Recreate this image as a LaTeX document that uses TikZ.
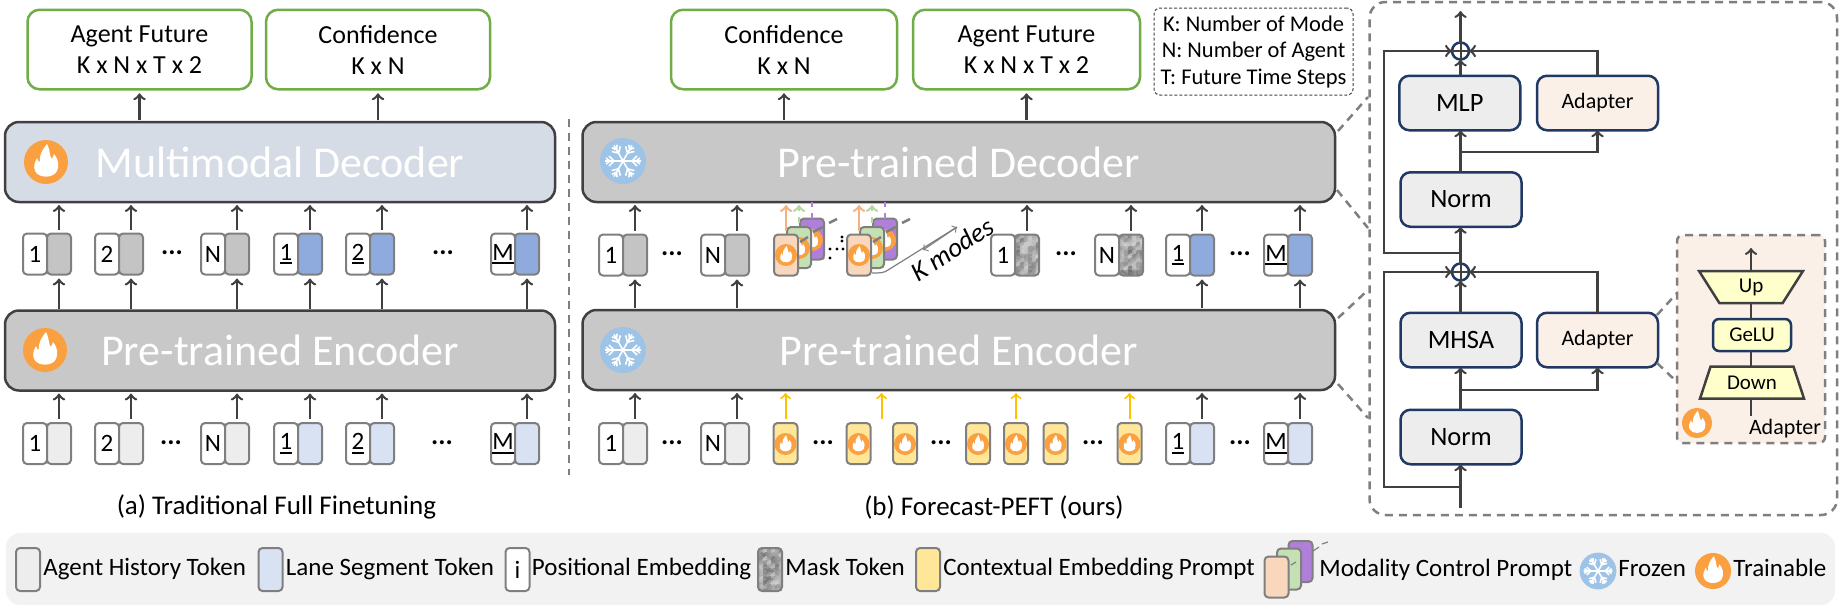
\documentclass[tikz,border=0pt]{standalone}
\usepackage{fontspec}
\setmainfont{Carlito}
\usetikzlibrary{positioning,shapes.geometric}
\definecolor{linedark}{HTML}{404040}
\definecolor{tokline}{HTML}{7F7F7F}
\definecolor{navyline}{HTML}{1F3864}
\definecolor{leafgreen}{HTML}{70AD47}
\definecolor{blockgray}{HTML}{C8C8C8}
\definecolor{blockblue}{HTML}{D6DCE5}
\definecolor{tokgray}{HTML}{C4C4C4}
\definecolor{tokblue}{HTML}{8FAADC}
\definecolor{palegray}{HTML}{EDEDED}
\definecolor{paleblue}{HTML}{D9E2F3}
\definecolor{promptyellow}{HTML}{FFE699}
\definecolor{promptpeach}{HTML}{F8D7BD}
\definecolor{promptgreen}{HTML}{C5E0B4}
\definecolor{promptpurple}{HTML}{B07FD9}
\definecolor{arrowpeach}{HTML}{F4B183}
\definecolor{arrowgreen}{HTML}{B5D8A0}
\definecolor{arrowyellow}{HTML}{FFC000}
\definecolor{flameorange}{HTML}{FBA040}
\definecolor{snowblue}{HTML}{9DC3E6}
\definecolor{adapterfill}{HTML}{FBF0E8}
\definecolor{gatefill}{HTML}{FFFFCC}
\definecolor{barfill}{HTML}{F2F2F2}
\newcommand{\ulnum}[1]{\setbox0\hbox{#1}\leavevmode\rlap{\rule[-2pt]{\wd0}{1pt}}\box0}
\tikzset{
    tok/.style={draw=tokline, line width=1pt, rounded corners=2pt, minimum width=12pt,
        minimum height=20.5pt, inner sep=0pt, outer sep=0pt, font=\fontsize{12.5}{14}\selectfont},
    numbox/.style={tok, fill=white},
    graytok/.style={tok, fill=tokgray},
    bluetok/.style={tok, fill=tokblue},
    palegraytok/.style={tok, fill=palegray},
    paleblutok/.style={tok, fill=paleblue},
    yellowtok/.style={tok, fill=promptyellow},
    peachtok/.style={tok, fill=promptpeach},
    greentok/.style={tok, fill=promptgreen},
    purpletok/.style={tok, fill=promptpurple},
    masktok/.style={tok, fill=tokgray, path picture={
        \foreach \u in {-12,-8,...,12} \foreach \v in {-22,-18,...,22} {
            \pgfmathsetmacro\g{15+45*rnd}
            \fill[black!\g, opacity=.65] ([shift={(\u,\v)}]path picture bounding box.center) circle (3.5);
        }}},
    block/.style={draw=linedark, line width=1.25pt, rounded corners=7pt, minimum width=275pt,
        minimum height=40pt, inner sep=0pt, outer sep=0pt, text=white, font=\fontsize{22}{24}\selectfont},
    outbox/.style={draw=leafgreen, line width=1.25pt, rounded corners=6pt, minimum width=112pt,
        minimum height=39.75pt, inner sep=0pt, outer sep=0pt, align=center, font=\fontsize{13}{15.5}\selectfont},
    navybox/.style={draw=navyline, line width=1.25pt, rounded corners=5pt, minimum width=60.5pt,
        minimum height=27.25pt, inner sep=0pt, outer sep=0pt, fill=palegray, font=\fontsize{13.25}{15}\selectfont},
    adapterbox/.style={navybox, fill=adapterfill, font=\fontsize{11}{13}\selectfont},
    gate/.style={trapezium, draw=linedark, line width=1.25pt, fill=gatefill, trapezium stretches=true,
        trapezium left angle=65, trapezium right angle=65, minimum width=52pt, minimum height=16pt,
        inner sep=0pt, outer sep=0pt, font=\fontsize{10.5}{12}\selectfont},
    addnode/.style={circle, draw=navyline, line width=1.25pt, minimum size=8.5pt, inner sep=0pt, outer sep=0pt},
    flow/.style={->, draw=linedark, line width=1.25pt},
    arr/.style={flow, shorten >=1.5pt, shorten <=2pt},
    outarr/.style={flow, shorten >=2pt, shorten <=1pt},
    yellowarr/.style={arr, draw=arrowyellow, line width=1pt},
    zoomline/.style={draw=tokline, line width=1.25pt, dash pattern=on 4pt off 3pt},
    dotstext/.style={inner sep=0pt, font=\bfseries\fontsize{13.5}{15}\selectfont},
    caption/.style={inner sep=0pt, font=\fontsize{13.5}{16}\selectfont},
    legtext/.style={inner sep=0pt, text height=9pt, text depth=3pt, font=\fontsize{12.5}{14}\selectfont},
    slashline/.style={draw=tokline, line width=1pt},
    flameicon/.pic={
        \fill[flameorange] (0,0) circle (22);
        \fill[white] (1,-18) .. controls (5,-10) and (3,-6) .. (6,-3) .. controls (7,-6) and (8,-7) .. (8,-8)
            .. controls (13,-2) and (13,4) .. (11,9) .. controls (8,16) and (-7,17) .. (-11,9)
            .. controls (-13,4) and (-11,0) .. (-9,-4) .. controls (-8,-1) and (-7,0) .. (-6,0)
            .. controls (-7,-8) and (-3,-13) .. (1,-18) -- cycle;
    },
    snowicon/.pic={
        \fill[snowblue] (0,0) circle (23);
        \foreach \a in {30,90,...,330} {
            \draw[white, line width=0.8pt, rotate=\a] (0,0) -- (0,-18) (0,-9) -- (-5,-14) (0,-9) -- (5,-14)
                (0,-13) -- (-3,-17) (0,-13) -- (3,-17);
        }
    },
}
\pgfmathsetseed{11}
\begin{document}
\begin{tikzpicture}[x=0.5pt, y=-0.5pt]
    \useasboundingbox (0,0) rectangle (1841,606);

    % (a) traditional
    \node[outbox] (future1) at (139.5,49.5) {Agent Future\\K x N x T x 2};
    \node[outbox] (conf1) at (378,49.5) {Confidence\\K x N};
    \node[block, fill=blockblue] (dec1) at (280,162) {Multimodal Decoder};
    \node[block, fill=blockgray] (enc1) at (280,350.5) {Pre-trained Encoder};
    \pic at (46,162) {flameicon};
    \pic at (45,350) {flameicon};
    \draw[outarr] (dec1.north -| future1) -- (future1.south);
    \draw[outarr] (dec1.north -| conf1) -- (conf1.south);
    \foreach \i/\x/\lab/\kindtop/\kindlow in {1/35/1/graytok/palegraytok, 2/107/2/graytok/palegraytok,
        3/213/N/graytok/palegraytok, 4/286/\ulnum{1}/bluetok/paleblutok,
        5/358/\ulnum{2}/bluetok/paleblutok, 6/503/\ulnum{M}/bluetok/paleblutok} {
        \node[numbox] (an\i) at (\x,254) {\lab};
        \node[\kindtop, right=0pt of an\i] (at\i) {};
        \node[numbox] (bn\i) at (\x,443.5) {\lab};
        \node[\kindlow, right=0pt of bn\i] (bt\i) {};
        \draw[arr] (at\i.north) -- (at\i.north |- dec1.south);
        \draw[outarr] (enc1.north -| at\i) -- (at\i.south);
        \draw[arr] (bt\i.north) -- (bt\i.north |- enc1.south);
    }
    \node[dotstext] (dotsa1) at (172,253) {...};
    \node[dotstext] (dotsa2) at (443,253) {...};
    \node[dotstext] (dotsa3) at (171,443) {...};
    \node[dotstext] (dotsa4) at (442,443) {...};
    \node[caption] (capa) at (276.5,507) {(a) Traditional Full Finetuning};
    \coordinate (sepA) at (569,119);
    \coordinate (sepB) at (569,475);
    \draw[zoomline] (sepA) -- (sepB);

    % (b) forecast-peft
    \node[outbox, minimum width=113pt] (conf2) at (784,49.5) {Confidence\\K x N};
    \node[outbox, minimum width=113.5pt] (future2) at (1026.5,49.5) {Agent Future\\K x N x T x 2};
    \node[draw=linedark, line width=.5pt, dash pattern=on 1.5pt off 1pt, rounded corners=3pt, minimum width=99.5pt,
        minimum height=43.5pt, inner sep=0pt, align=center, font=\fontsize{11.25}{13.25}\selectfont] (keybox)
        at (1253.5,51.5) {K: Number of Mode\\N: Number of Agent\\T: Future Time Steps};
    \node[block, fill=blockgray, minimum width=376.25pt] (dec2) at (958.75,162) {Pre-trained Decoder};
    \node[block, fill=blockgray, minimum width=376.25pt] (enc2) at (958.75,350) {Pre-trained Encoder};
    \pic at (623,161) {snowicon};
    \pic at (623,350) {snowicon};
    \draw[outarr] (dec2.north -| conf2) -- (conf2.south);
    \draw[outarr] (dec2.north -| future2) -- (future2.south);
    \foreach \i/\x/\lab/\kindtop/\kindlow in {1/611/1/graytok/palegraytok, 2/713/N/graytok/palegraytok,
        3/1178/\ulnum{1}/bluetok/paleblutok, 4/1276/\ulnum{M}/bluetok/paleblutok} {
        \node[numbox] (cn\i) at (\x,255) {\lab};
        \node[\kindtop, right=0pt of cn\i] (ct\i) {};
        \node[numbox] (dn\i) at (\x,443.5) {\lab};
        \node[\kindlow, right=0pt of dn\i] (dt\i) {};
        \draw[arr] (ct\i.north) -- (ct\i.north |- dec2.south);
        \draw[outarr] (enc2.north -| ct\i) -- (ct\i.south);
        \draw[arr] (dt\i.north) -- (dt\i.north |- enc2.south);
    }
    \foreach \i/\x/\lab in {1/1003/1, 2/1107/N} {
        \node[numbox] (mn\i) at (\x,255) {\lab};
        \node[masktok, right=0pt of mn\i] (mt\i) {};
        \draw[arr] (mt\i.north) -- (mt\i.north |- dec2.south);
    }
    \node[dotstext] (dotsb1) at (672,254) {...};
    \node[dotstext] (dotsb2) at (1066,254) {...};
    \node[dotstext] (dotsb3) at (1240,254) {...};
    % scattered dots between the stacks
    \foreach \x/\y in {816/258,823/258,830/258,830/249,837/249,843/249,842/241,842/237} {
        \fill (\x,\y) circle (1.6);
    }
    % modality prompts, K modes
    \foreach \i/\x in {1/786,2/859} {
        \node[purpletok] (pp\i) at (\x+26,239) {};
        \pic[scale=.5] at (\x+26,240) {flameicon};
        \node[greentok] (pg\i) at (\x+13,247.5) {};
        \pic[scale=.5] at (\x+13,248) {flameicon};
        \node[peachtok] (po\i) at (\x,255) {};
        \pic[scale=.5] at (\x,255) {flameicon};
        \draw[arr, draw=arrowpeach] (po\i.north) -- (po\i.north |- dec2.south);
        \draw[arr, draw=arrowgreen, dashed] (pg\i.north) -- (pg\i.north |- dec2.south);
        \draw[draw=promptpurple, line width=1.25pt, dashed] (pp\i.north) -- (pp\i.north |- dec2.south);
        \draw[slashline, line width=1.25pt] (\x+14,242) -- (\x+22,237) (\x+27,232) -- (\x+37,227) (\x+43,223) -- (\x+51,219);
    }
    \coordinate (kfoot) at (872,273);
    \coordinate (kknee) at (888,270);
    \coordinate (ktip) at (957,227);
    \coordinate (kmid) at (923,250);
    \draw[->, draw=tokline, line width=.6pt] (kfoot) .. controls (880,273) and (884,273) .. (kknee) -- (ktip);
    \draw[->, draw=tokline, line width=.6pt] (ktip) -- (kmid);
    \node[inner sep=0pt, rotate=33, font=\itshape\fontsize{13.5}{15}\selectfont] (kmodes) at (952,249) {K modes};
    \foreach \i/\x in {1/785.5,2/858.5,3/905,4/978,5/1016,6/1055.5,7/1129.5} {
        \node[yellowtok] (ep\i) at (\x,443.5) {};
        \pic[scale=.5] at (\x,444) {flameicon};
    }
    \coordinate (freeyellow) at (881.5,423);
    \draw[yellowarr] (ep1.north) -- (ep1.north |- enc2.south);
    \draw[yellowarr] (freeyellow) -- (freeyellow |- enc2.south);
    \draw[yellowarr] (ep5.north) -- (ep5.north |- enc2.south);
    \draw[yellowarr] (ep7.north) -- (ep7.north |- enc2.south);
    \node[dotstext] (dotsc1) at (672,443) {...};
    \node[dotstext] (dotsc2) at (823,443) {...};
    \node[dotstext] (dotsc3) at (941,443) {...};
    \node[dotstext] (dotsc4) at (1093,443) {...};
    \node[dotstext] (dotsc5) at (1240,443) {...};
    \node[caption] (capb) at (994,507) {(b) Forecast-PEFT (ours)};

    % blocks in detail
    \node[draw=tokline, line width=1.25pt, dash pattern=on 4pt off 3pt, rounded corners=8pt, minimum width=233.75pt,
        minimum height=256.5pt, inner sep=0pt, outer sep=0pt] (frame) at (1603.25,258.5) {};
    \coordinate (zoomA) at (1338,131);
    \coordinate (zoomB) at (1368,97);
    \coordinate (zoomC) at (1337,190);
    \coordinate (zoomD) at (1368,228);
    \coordinate (zoomE) at (1338,318);
    \coordinate (zoomF) at (1368,290);
    \coordinate (zoomG) at (1338,384);
    \coordinate (zoomH) at (1368,418);
    \draw[zoomline] (zoomA) -- (zoomB);
    \draw[zoomline] (zoomC) -- (zoomD);
    \draw[zoomline] (zoomE) -- (zoomF);
    \draw[zoomline] (zoomG) -- (zoomH);

    \node[addnode] (add1) at (1460.5,51) {};
    \node[navybox] (mlp) at (1459.75,103) {MLP};
    \node[adapterbox] (adpt1) at (1597.5,103) {Adapter};
    \node[navybox] (norm1) at (1461,199.5) {Norm};
    \node[addnode] (add2) at (1460.5,272) {};
    \node[navybox] (mhsa) at (1461,340) {MHSA};
    \node[adapterbox] (adpt2) at (1597.5,340) {Adapter};
    \node[navybox] (norm2) at (1461,437) {Norm};
    \coordinate (topout) at (1460.5,11);
    \coordinate (lowin) at (1460.5,508);
    \coordinate (skipx) at (1384,0);
    \coordinate (skip1) at (1460.5,253);
    \coordinate (skip2) at (1460.5,487);
    \coordinate (branch1) at (1460.5,152);
    \coordinate (branch2) at (1460.5,390);
    \draw[draw=linedark, line width=1pt] (add1.west) -- (add1.east) (add1.north) -- (add1.south);
    \draw[draw=linedark, line width=1pt] (add2.west) -- (add2.east) (add2.north) -- (add2.south);
    \draw[flow] (add1.north) -- (topout);
    \draw[flow] (add1 |- mlp.north) -- (add1.south);
    \draw[flow] (adpt1.north) |- (add1.east);
    \draw[flow] (skip1) -- (skipx |- skip1) -- (skipx |- add1) -- (add1.west);
    \draw[flow] (norm1.north -| add1) -- (add1 |- mlp.south);
    \draw[flow] (branch1) -| (adpt1.south);
    \draw[flow] (add2.north) -- (add2 |- norm1.south);
    \draw[flow] (add2 |- mhsa.north) -- (add2.south);
    \draw[flow] (adpt2.north) |- (add2.east);
    \draw[flow] (skip2) -- (skipx |- skip2) -- (skipx |- add2) -- (add2.west);
    \draw[flow] (norm2.north -| add2) -- (add2 |- mhsa.south);
    \draw[flow] (branch2) -| (adpt2.south);
    \draw[flow] (lowin) -- (add2 |- norm2.south);

    % adapter in detail
    \coordinate (zoomI) at (1657,315);
    \coordinate (zoomJ) at (1677,293);
    \coordinate (zoomK) at (1657,363);
    \coordinate (zoomL) at (1677,382);
    \draw[zoomline] (zoomI) -- (zoomJ);
    \draw[zoomline] (zoomK) -- (zoomL);
    \node[draw=tokline, line width=1.25pt, dash pattern=on 4pt off 3pt, fill=adapterfill, rounded corners=3pt,
        minimum width=74pt, minimum height=104pt, inner sep=0pt, outer sep=0pt] (adptbox) at (1751,339) {};
    \node[gate, shape border rotate=180] (upgate) at (1751,287) {Up};
    \node[navybox, fill=gatefill, minimum width=39pt, minimum height=16pt, rounded corners=3pt,
        font=\fontsize{10.5}{12}\selectfont] (gelu) at (1752,335) {GeLU};
    \node[gate] (downgate) at (1752,382.5) {Down};
    \coordinate (adptin) at (1751,416);
    \coordinate (adptout) at (1751,248);
    \draw[draw=linedark, line width=1.25pt] (adptin) -- (adptin |- downgate.south);
    \draw[draw=linedark, line width=1.25pt] (adptin |- downgate.north) -- (adptin |- gelu.south);
    \draw[draw=linedark, line width=1.25pt] (adptin |- gelu.north) -- (adptin |- upgate.south);
    \draw[flow] (adptin |- upgate.north) -- (adptout);
    \pic[scale=.68] at (1697,423) {flameicon};
    \node[inner sep=0pt, font=\fontsize{11}{13}\selectfont] (adptlabel) at (1785,429) {Adapter};

    % legend
    \node[fill=barfill, rounded corners=7pt, minimum width=914.5pt, minimum height=36pt, inner sep=0pt] (bar) at (920.5,569) {};
    \node[palegraytok, minimum height=21.5pt] (leg1) at (28,569.5) {};
    \node[legtext, right=1.5pt of leg1] (legt1) {Agent History Token};
    \node[paleblutok, minimum height=21.5pt] (leg2) at (270.5,569.5) {};
    \node[legtext, right=1.5pt of leg2] (legt2) {Lane Segment Token};
    \node[numbox, minimum height=21.5pt, font=\fontsize{12.5}{14}\selectfont] (leg3) at (517.5,569.5) {i};
    \node[legtext, right=1pt of leg3] (legt3) {Positional Embedding};
    \node[masktok, minimum height=21.5pt] (leg4) at (770,569.5) {};
    \node[legtext, right=1.5pt of leg4] (legt4) {Mask Token};
    \node[yellowtok, minimum height=21.5pt] (leg5) at (928,569.5) {};
    \node[legtext, right=1.5pt of leg5] (legt5) {Contextual Embedding Prompt};
    \node[purpletok] (leg6c) at (1300.5,561.5) {};
    \node[greentok] (leg6b) at (1289,569) {};
    \node[peachtok] (leg6a) at (1276.5,577) {};
    \draw[slashline, line width=.6pt] (1291,565) -- (1296,562) (1313,551) -- (1319,547) (1322,544) -- (1328,542);
    \node[legtext, anchor=west] (legt6) at (1319,570) {Modality Control Prompt};
    \pic[scale=.8] at (1598,571) {snowicon};
    \node[legtext, anchor=west] (legt7) at (1618,570) {Frozen};
    \pic[scale=.82] at (1713,571) {flameicon};
    \node[legtext, anchor=west] (legt8) at (1733,570) {Trainable};
\end{tikzpicture}
\end{document}
